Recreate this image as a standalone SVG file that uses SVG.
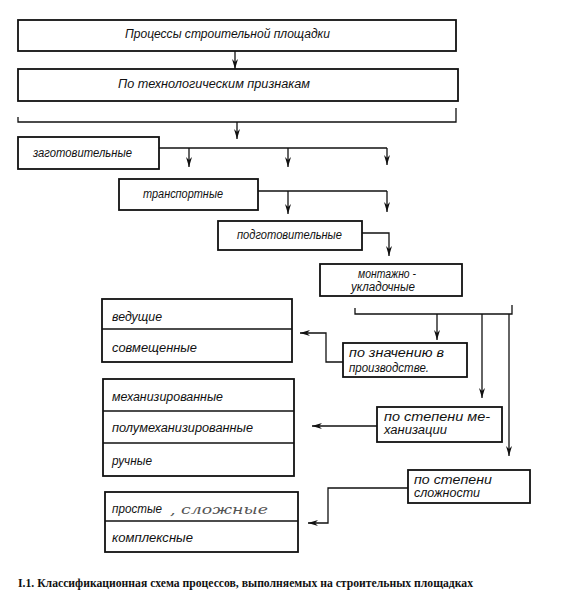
<svg xmlns="http://www.w3.org/2000/svg" width="580" height="599" viewBox="0 0 580 599">
<defs>
<marker id="ah" viewBox="0 0 10 6" refX="10" refY="3" markerWidth="10" markerHeight="6" orient="auto" markerUnits="userSpaceOnUse">
<path d="M0,0 L10,3 L0,6 L3,3 z" fill="#111"/>
</marker>
<style>
.box{fill:#fff;stroke:#111;stroke-width:1.8}
.div{stroke:#111;stroke-width:1.4;fill:none}
.t{font-family:"Liberation Sans","DejaVu Sans",sans-serif;font-style:italic;font-size:12.5px;fill:#111}
.c{fill:none;stroke:#111;stroke-width:1.3}
.a{fill:none;stroke:#111;stroke-width:1.3;marker-end:url(#ah)}
.cap{font-family:"Liberation Serif","DejaVu Serif",serif;font-weight:bold;font-size:12px;fill:#111}
.hw{font-family:"DejaVu Serif",serif;font-style:italic;font-size:13px;fill:#555}
</style>
</defs>
<rect width="580" height="599" fill="#fff"/>

<g id="connectors">
<line class="a" x1="235" y1="51" x2="235" y2="69"/>
<path class="c" d="M18,117 V122 H456 V108"/>
<line class="a" x1="237" y1="122" x2="237" y2="139"/>
<path class="c" d="M159,148 H387"/>
<line class="a" x1="189" y1="148" x2="189" y2="167"/>
<line class="a" x1="288" y1="148" x2="288" y2="167"/>
<line class="a" x1="387" y1="148" x2="387" y2="165"/>
<path class="c" d="M258,191 H387"/>
<line class="a" x1="288" y1="191" x2="288" y2="214"/>
<line class="a" x1="387" y1="191" x2="387" y2="212"/>
<path class="a" d="M362,233 H389 V256"/>
<path class="c" d="M355,308 V314 H512 V305"/>
<line class="a" x1="437" y1="314" x2="437" y2="340"/>
<line class="a" x1="482" y1="314" x2="482" y2="398"/>
<line class="a" x1="509" y1="314" x2="509" y2="456"/>
<path class="a" d="M343,362 H326 V333 H300"/>
<path class="a" d="M377,426 H312"/>
<path class="a" d="M408,488 H328 V523 H308"/>
</g>

<g id="n-processes">
<rect class="box" x="18" y="20" width="438" height="31"/>
<text class="t" x="125" y="38" textLength="205" lengthAdjust="spacingAndGlyphs">Процессы строительной площадки</text>
</g>
<g id="n-tech">
<rect class="box" x="18" y="69" width="440" height="32"/>
<text class="t" x="118" y="88" textLength="192" lengthAdjust="spacingAndGlyphs">По технологическим признакам</text>
</g>
<g id="n-zagot">
<rect class="box" x="18" y="137" width="141" height="32"/>
<text class="t" x="33" y="157" textLength="99" lengthAdjust="spacingAndGlyphs">заготовительные</text>
</g>
<g id="n-transp">
<rect class="box" x="119" y="179" width="139" height="31"/>
<text class="t" x="143" y="198" textLength="80" lengthAdjust="spacingAndGlyphs">транспортные</text>
</g>
<g id="n-podgot">
<rect class="box" x="218" y="221" width="144" height="29"/>
<text class="t" x="237" y="239" textLength="105" lengthAdjust="spacingAndGlyphs">подготовительные</text>
</g>
<g id="n-montazh">
<rect class="box" x="320" y="264" width="142" height="32"/>
<text class="t" x="358" y="278" textLength="58" lengthAdjust="spacingAndGlyphs">монтажно -</text>
<text class="t" x="351" y="291" textLength="64" lengthAdjust="spacingAndGlyphs">укладочные</text>
</g>
<g id="n-znach">
<rect class="box" x="343" y="343" width="124" height="34"/>
<text class="t" x="349" y="357" textLength="95" lengthAdjust="spacingAndGlyphs">по значению   в</text>
<text class="t" x="349" y="372" textLength="80" lengthAdjust="spacingAndGlyphs">производстве.</text>
</g>
<g id="n-mech">
<rect class="box" x="377" y="407" width="125" height="35"/>
<text class="t" x="384" y="421" textLength="106" lengthAdjust="spacingAndGlyphs">по степени ме-</text>
<text class="t" x="384" y="434" textLength="63" lengthAdjust="spacingAndGlyphs">ханизации</text>
</g>
<g id="n-slozh">
<rect class="box" x="408" y="470" width="122" height="33"/>
<text class="t" x="414" y="484" textLength="78" lengthAdjust="spacingAndGlyphs">по степени</text>
<text class="t" x="414" y="497" textLength="66" lengthAdjust="spacingAndGlyphs">сложности</text>
</g>
<g id="n-group1">
<rect class="box" x="102" y="299" width="190" height="63"/>
<line class="div" x1="102" y1="329" x2="292" y2="329"/>
<text class="t" x="112" y="321" textLength="50" lengthAdjust="spacingAndGlyphs">ведущие</text>
<text class="t" x="112" y="352" textLength="85" lengthAdjust="spacingAndGlyphs">совмещенные</text>
</g>
<g id="n-group2">
<rect class="box" x="103" y="379" width="191" height="97"/>
<line class="div" x1="103" y1="411" x2="294" y2="411"/>
<line class="div" x1="103" y1="443" x2="294" y2="443"/>
<text class="t" x="112" y="401" textLength="111" lengthAdjust="spacingAndGlyphs">механизированные</text>
<text class="t" x="112" y="432" textLength="141" lengthAdjust="spacingAndGlyphs">полумеханизированные</text>
<text class="t" x="112" y="465" textLength="40" lengthAdjust="spacingAndGlyphs">ручные</text>
</g>
<g id="n-group3">
<rect class="box" x="105" y="492" width="193" height="60"/>
<line class="div" x1="105" y1="521" x2="298" y2="521"/>
<text class="t" x="112" y="513" textLength="50" lengthAdjust="spacingAndGlyphs">простые</text>
<text class="hw" x="170" y="514" textLength="98" lengthAdjust="spacingAndGlyphs">, сложные</text>
<text class="t" x="112" y="542" textLength="81" lengthAdjust="spacingAndGlyphs">комплексные</text>
</g>

<text class="cap" x="18" y="587" textLength="455" lengthAdjust="spacingAndGlyphs">I.1. Классификационная схема процессов, выполняемых на строительных площадках</text>
</svg>
